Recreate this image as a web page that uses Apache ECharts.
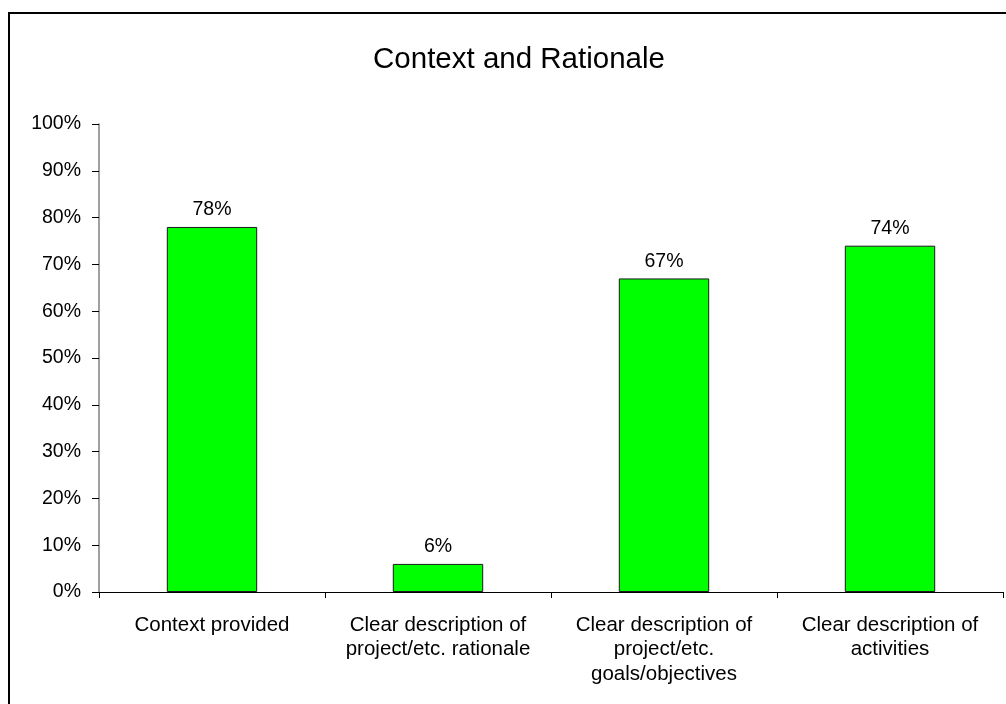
<!DOCTYPE html>
<html>
<head>
<meta charset="utf-8">
<script src="https://cdn.jsdelivr.net/npm/echarts@6/dist/echarts.min.js"></script>
<style>
  html, body { margin: 0; padding: 0; background: #fff; }
  #chart { width: 1006px; height: 704px; }
</style>
</head>
<body>
<div id="chart"></div>
<script>
// Share of documents meeting each context/rationale criterion (%)
const categories = [
  'Context provided',
  'Clear description of\nproject/etc. rationale',
  'Clear description of\nproject/etc.\ngoals/objectives',
  'Clear description of\nactivities'
];
const values = [78, 6, 67, 74];
const yTicks = [0, 10, 20, 30, 40, 50, 60, 70, 80, 90, 100];

const font = 'Liberation Sans, Arial, sans-serif';
const chart = echarts.init(document.getElementById('chart'));

chart.setOption({
  animation: false,
  backgroundColor: '#fff',
  title: {
    text: 'Context and Rationale',
    left: 514,
    top: 40,
    textAlign: 'center',
    textStyle: { fontFamily: font, fontSize: 29.5, fontWeight: 'normal', color: '#000' }
  },
  graphic: [{
    type: 'rect',
    shape: { x: 9, y: 13, width: 1010, height: 710 },
    style: { fill: 'none', stroke: '#000', lineWidth: 2 },
    silent: true
  }],
  grid: { left: 99, right: 3, top: 124, bottom: 112 },
  xAxis: {
    type: 'category',
    data: categories,
    axisLine: { lineStyle: { color: '#000', width: 1 } },
    axisTick: { show: true, alignWithLabel: false, length: 6, lineStyle: { color: '#000' } },
    axisLabel: {
      interval: 0,
      margin: 21,
      fontFamily: font,
      fontSize: 20.5,
      lineHeight: 24.5,
      color: '#000',
      align: 'center'
    }
  },
  yAxis: {
    type: 'value',
    min: yTicks[0],
    max: yTicks[yTicks.length - 1],
    interval: 10,
    axisLine: { show: true, lineStyle: { color: '#808080', width: 1.5 } },
    axisTick: { show: true, length: 7, lineStyle: { color: '#000' } },
    splitLine: { show: false },
    axisLabel: {
      margin: 18,
      fontFamily: font,
      fontSize: 19.5,
      color: '#000',
      formatter: v => v + '%'
    }
  },
  series: [{
    type: 'bar',
    data: values,
    barWidth: '40%',
    itemStyle: { color: '#00ff00', borderColor: '#1a1a1a', borderWidth: 1 },
    label: {
      show: true,
      position: 'top',
      distance: 7,
      fontFamily: font,
      fontSize: 19.5,
      color: '#000',
      formatter: p => p.value + '%'
    }
  }]
});
</script>
</body>
</html>
